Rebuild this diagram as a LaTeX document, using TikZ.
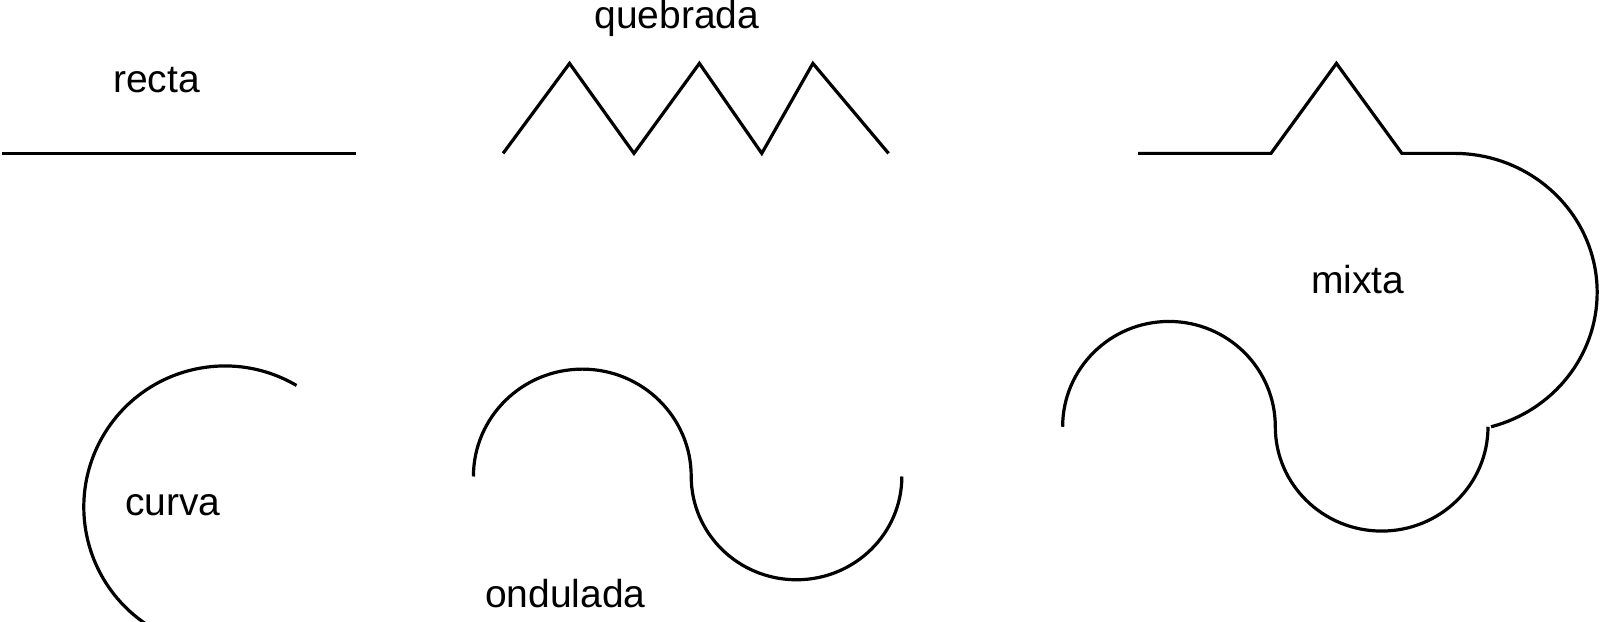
\documentclass[tikz,border=0pt]{standalone}
\usepackage{fontspec}
\setmainfont{Liberation Sans}
\begin{document}
\begin{tikzpicture}[x=1.0225pt,y=-1.0225pt,
  ln/.style={line width=3.2pt,line join=miter},
  lbl/.style={font=\fontsize{39}{41}\selectfont,inner sep=0pt}]
\useasboundingbox (0pt,0pt) rectangle (1600pt,-621pt);
% recta
\coordinate (r1) at (2,150);
\coordinate (r2) at (348,150);
\draw[ln] (r1) -- (r2);
\node[lbl] (trecta) at (153,78) {recta};
% quebrada
\coordinate (q1) at (492,150);
\coordinate (q2) at (557,62);
\coordinate (q3) at (620,150);
\coordinate (q4) at (684,62);
\coordinate (q5) at (745,150);
\coordinate (q6) at (795,62);
\coordinate (q7) at (869,150);
\draw[ln] (q1) -- (q2) -- (q3) -- (q4) -- (q5) -- (q6) -- (q7);
\node[lbl] (tquebrada) at (662,18) {quebrada};
% curva
\coordinate (cs) at (290,377);
\draw[ln] (cs) arc[start angle=-59.5,end angle=-235.4,radius=138];
\node[lbl] (tcurva) at (169,494) {curva};
% ondulada
\coordinate (o1) at (463,466);
\draw[ln] (o1) arc[start angle=-180,end angle=0,x radius=106.5,y radius=105]
  arc[start angle=180,end angle=0,x radius=103,y radius=101];
\node[lbl] (tondulada) at (553,580) {ondulada};
% mixta
\coordinate (m1) at (1113,150);
\coordinate (m2) at (1243,150);
\coordinate (m3) at (1307,62);
\coordinate (m4) at (1371,150);
\coordinate (m5) at (1422,150);
\draw[ln] (m1) -- (m2) -- (m3) -- (m4) -- (m5)
  arc[start angle=-90,end angle=75,x radius=140,y radius=136]
  coordinate (m6);
\draw[ln] (m6) ++(-3,0) arc[start angle=0,end angle=180,x radius=104,y radius=102]
  arc[start angle=0,end angle=-180,x radius=104,y radius=103];
\node[lbl] (tmixta) at (1328,273) {mixta};
\end{tikzpicture}
\end{document}
